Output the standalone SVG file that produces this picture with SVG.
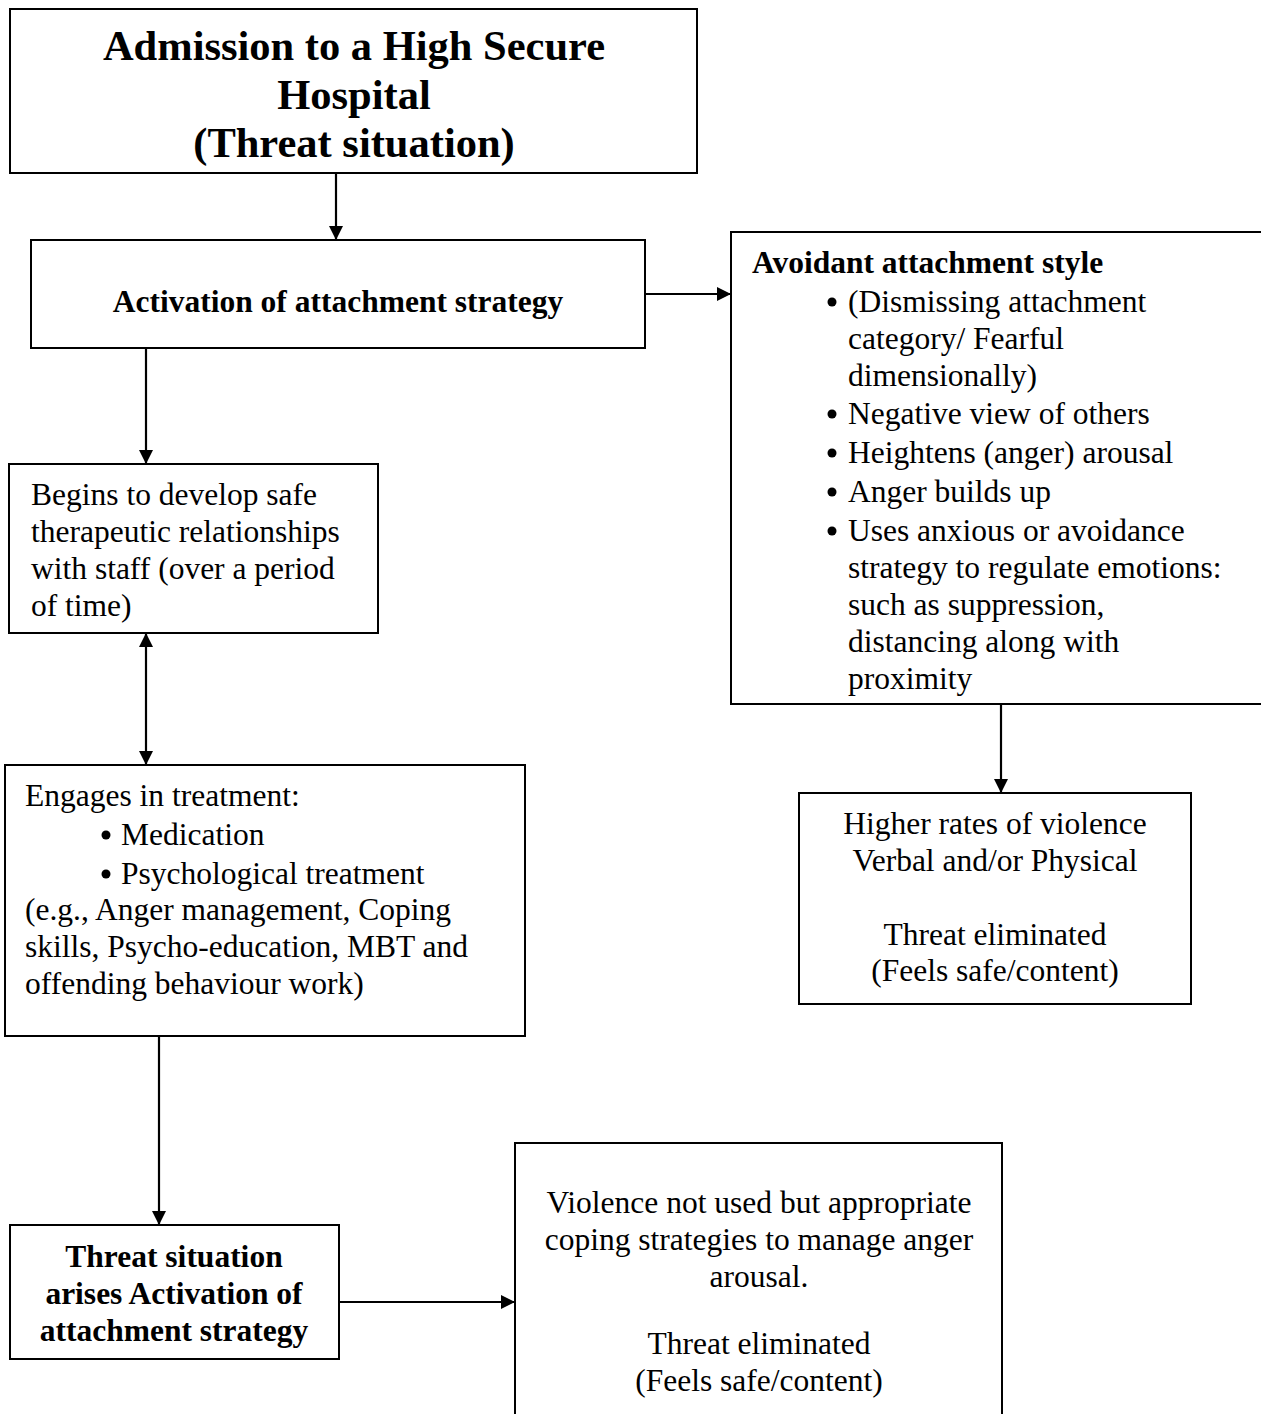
<svg xmlns="http://www.w3.org/2000/svg" width="1261" height="1414" viewBox="0 0 1261 1414">
<style>
.box{fill:#fff;stroke:#000;stroke-width:2}
.t{font-family:"Liberation Serif","Times New Roman",serif;font-size:31.5px;fill:#000}
.b{font-weight:bold}
.c{text-anchor:middle}
.title{font-size:42.5px}
.con{stroke:#000;stroke-width:2.2;fill:none}
.dot{fill:#000}
</style>
<defs>
<marker id="ah" viewBox="0 0 14 14" refX="14" refY="7" markerWidth="14" markerHeight="14" orient="auto-start-reverse" markerUnits="userSpaceOnUse">
<path d="M0,0 L14,7 L0,14 Z" fill="#000"/>
</marker>
</defs>
<rect x="0" y="0" width="1261" height="1414" fill="#fff"/>
<g id="connectors">
<line class="con" x1="336" y1="173" x2="336" y2="240" marker-end="url(#ah)"/>
<line class="con" x1="645" y1="294" x2="731" y2="294" marker-end="url(#ah)"/>
<line class="con" x1="1001" y1="704" x2="1001" y2="793" marker-end="url(#ah)"/>
<line class="con" x1="146" y1="348" x2="146" y2="464" marker-end="url(#ah)"/>
<line class="con" x1="146" y1="633" x2="146" y2="765" marker-start="url(#ah)" marker-end="url(#ah)"/>
<line class="con" x1="159" y1="1036" x2="159" y2="1225" marker-end="url(#ah)"/>
<line class="con" x1="339" y1="1302" x2="515" y2="1302" marker-end="url(#ah)"/>
</g>
<g id="admission">
<rect class="box" x="10" y="9" width="687" height="164"/>
<text class="t b c title" x="354" y="60">Admission to a High Secure</text>
<text class="t b c title" x="354" y="109">Hospital</text>
<text class="t b c title" x="354" y="157">(Threat situation)</text>
</g>
<g id="activation">
<rect class="box" x="31" y="240" width="614" height="108"/>
<text class="t b c" x="338" y="312">Activation of attachment strategy</text>
</g>
<g id="avoidant">
<rect class="box" x="731" y="232" width="540" height="472"/>
<text class="t b" x="752" y="273">Avoidant attachment style</text>
<circle class="dot" cx="832" cy="302" r="4.5"/>
<text class="t" x="848" y="312">(Dismissing attachment</text>
<text class="t" x="848" y="349">category/ Fearful</text>
<text class="t" x="848" y="386">dimensionally)</text>
<circle class="dot" cx="832" cy="414" r="4.5"/>
<text class="t" x="848" y="424">Negative view of others</text>
<circle class="dot" cx="832" cy="453" r="4.5"/>
<text class="t" x="848" y="463">Heightens (anger) arousal</text>
<circle class="dot" cx="832" cy="492" r="4.5"/>
<text class="t" x="848" y="502">Anger builds up</text>
<circle class="dot" cx="832" cy="531" r="4.5"/>
<text class="t" x="848" y="541">Uses anxious or avoidance</text>
<text class="t" x="848" y="578">strategy to regulate emotions:</text>
<text class="t" x="848" y="615">such as suppression,</text>
<text class="t" x="848" y="652">distancing along with</text>
<text class="t" x="848" y="689">proximity</text>
</g>
<g id="violence">
<rect class="box" x="799" y="793" width="392" height="211"/>
<text class="t c" x="995" y="834">Higher rates of violence</text>
<text class="t c" x="995" y="871">Verbal and/or Physical</text>
<text class="t c" x="995" y="945">Threat eliminated</text>
<text class="t c" x="995" y="981">(Feels safe/content)</text>
</g>
<g id="relationships">
<rect class="box" x="9" y="464" width="369" height="169"/>
<text class="t" x="31" y="505">Begins to develop safe</text>
<text class="t" x="31" y="542">therapeutic relationships</text>
<text class="t" x="31" y="579">with staff (over a period</text>
<text class="t" x="31" y="616">of time)</text>
</g>
<g id="treatment">
<rect class="box" x="5" y="765" width="520" height="271"/>
<text class="t" x="25" y="806">Engages in treatment:</text>
<circle class="dot" cx="106" cy="835" r="4.5"/>
<text class="t" x="121" y="845">Medication</text>
<circle class="dot" cx="106" cy="874" r="4.5"/>
<text class="t" x="121" y="884">Psychological treatment</text>
<text class="t" x="25" y="920">(e.g., Anger management, Coping</text>
<text class="t" x="25" y="957">skills, Psycho-education, MBT and</text>
<text class="t" x="25" y="994">offending behaviour work)</text>
</g>
<g id="threat">
<rect class="box" x="10" y="1225" width="329" height="134"/>
<text class="t b c" x="174" y="1267">Threat situation</text>
<text class="t b c" x="174" y="1304">arises Activation of</text>
<text class="t b c" x="174" y="1341">attachment strategy</text>
</g>
<g id="coping">
<rect class="box" x="515" y="1143" width="487" height="290"/>
<text class="t c" x="759" y="1213">Violence not used but appropriate</text>
<text class="t c" x="759" y="1250">coping strategies to manage anger</text>
<text class="t c" x="759" y="1287">arousal.</text>
<text class="t c" x="759" y="1354">Threat eliminated</text>
<text class="t c" x="759" y="1391">(Feels safe/content)</text>
</g>
</svg>
